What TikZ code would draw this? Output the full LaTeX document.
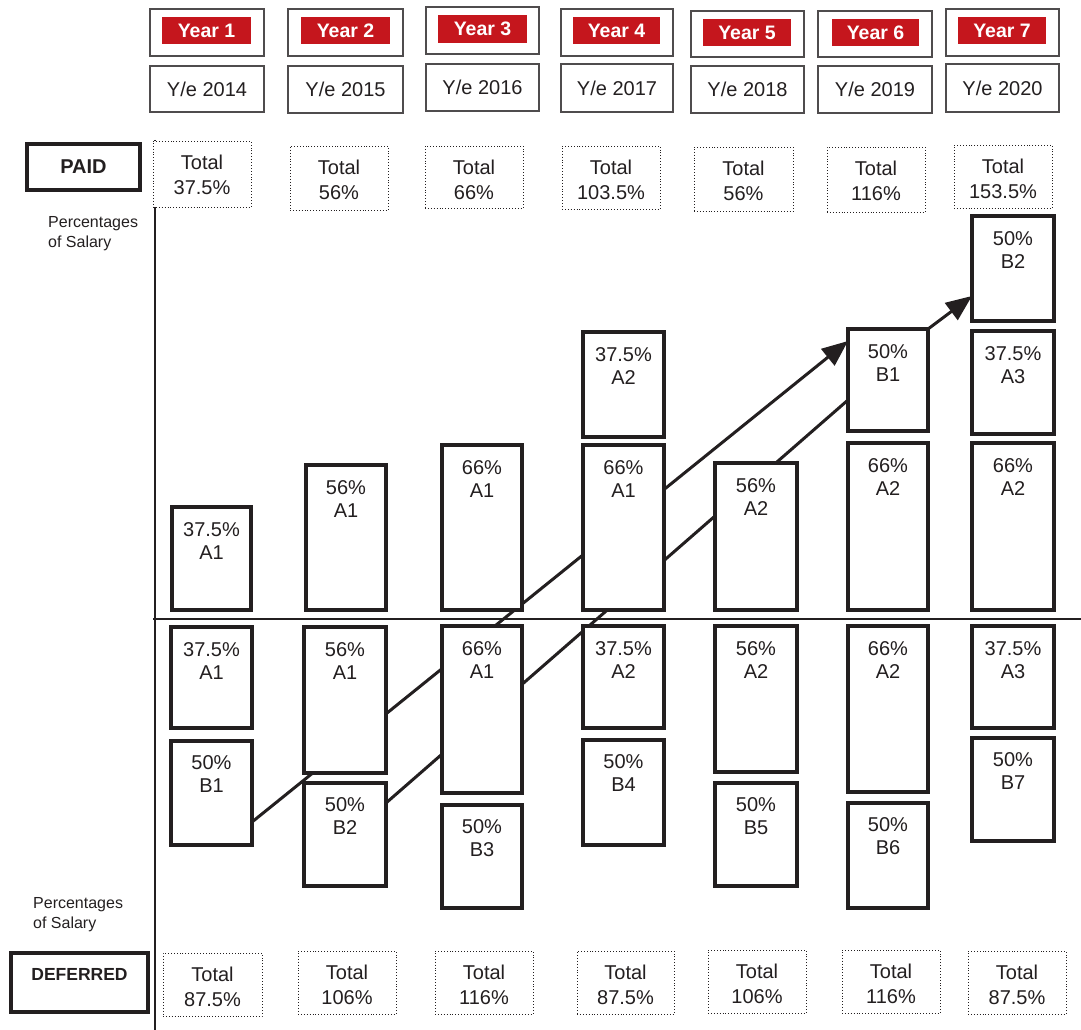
\documentclass[tikz,border=0pt]{standalone}
\usepackage{fontspec}
\setmainfont{Liberation Sans}
\usetikzlibrary{calc,arrows.meta,backgrounds}
\definecolor{yred}{RGB}{197,22,29}
\definecolor{ink}{RGB}{35,31,32}
% name, x1, y1, x2, y2, box style, text style, text (text hangs from the top)
\newcommand\tbox[8]{%
  \node[#6, minimum width={#4-#2}, minimum height={#5-#3}] (#1) at ({(#2+#4)/2},{(#3+#5)/2}) {};
  \node[#7, anchor=north] (#1-t) at (#1.north) {#8};}
% name, x1, y1, x2, y2, style, text (text centred)
\newcommand\cbox[7]{%
  \node[#6, minimum width={#4-#2}, minimum height={#5-#3}] (#1) at ({(#2+#4)/2},{(#3+#5)/2}) {#7};}
\tikzset{
  base/.style={rectangle, inner sep=0pt, outer sep=0pt},
  bar/.style={base, draw=ink, line width=3.5pt, fill=white},
  tot/.style={base, draw=ink, line width=0.9pt, dotted, fill=white},
  hdr/.style={base, draw=ink!80, line width=1.4pt, text=ink, font=\fontsize{20}{24}\selectfont},
  redbox/.style={base, fill=yred, text=white, font=\bfseries\fontsize{19.5}{22}\selectfont},
  side/.style={base, draw=ink, line width=4pt, fill=white},
  txt/.style={inner sep=0pt, align=center, text=ink, font=\fontsize{20}{23.5}\selectfont},
  bartxt/.style={txt, yshift=-15pt},
  bartxtb/.style={txt, yshift=-14pt},
  tottxt/.style={txt, font=\fontsize{20}{25}\selectfont, yshift=-14pt},
  sidetxt/.style={inner sep=0pt, text=ink, font=\bfseries\fontsize{20}{24}\selectfont},
  plabel/.style={inner sep=0pt, align=left, text=ink, font=\fontsize{16}{20}\selectfont},
  axis/.style={draw=ink, line width=1.2pt},
  conn/.style={draw=ink, line width=3pt},
  tip/.style={-{Triangle[length=26pt,width=21pt]}}
}
\begin{document}
\begin{tikzpicture}[x=1pt,y=-1pt]
\useasboundingbox (0,0) rectangle (1081,1030);

% axes
\coordinate (axtop) at (155,140);
\coordinate (axbot) at (155,1030);
\coordinate (hl) at (153,619);
\coordinate (hr) at (1081,619);
\draw[axis] (axtop) -- (axbot);
\draw[axis] (hl) -- (hr);

% headers
\cbox{h1}{150}{9}{264}{56}{hdr}{}
\cbox{r1}{162}{17}{251}{44}{redbox}{Year 1}
\cbox{y1}{150}{66}{264}{112}{hdr}{Y/e 2014}
\cbox{h2}{288}{9}{403}{56}{hdr}{}
\cbox{r2}{301}{17}{390}{44}{redbox}{Year 2}
\cbox{y2}{288}{66}{403}{113}{hdr}{Y/e 2015}
\cbox{h3}{426}{7}{539}{54}{hdr}{}
\cbox{r3}{438}{15}{527}{43}{redbox}{Year 3}
\cbox{y3}{426}{64}{539}{111}{hdr}{Y/e 2016}
\cbox{h4}{561}{9}{673}{56}{hdr}{}
\cbox{r4}{573}{17}{660}{44}{redbox}{Year 4}
\cbox{y4}{561}{64}{673}{112}{hdr}{Y/e 2017}
\cbox{h5}{691}{11}{804}{57}{hdr}{}
\cbox{r5}{703}{19}{791}{46}{redbox}{Year 5}
\cbox{y5}{691}{66}{804}{113}{hdr}{Y/e 2018}
\cbox{h6}{818}{11}{932}{57}{hdr}{}
\cbox{r6}{832}{19}{919}{46}{redbox}{Year 6}
\cbox{y6}{818}{66}{932}{113}{hdr}{Y/e 2019}
\cbox{h7}{946}{9}{1059}{56}{hdr}{}
\cbox{r7}{958}{17}{1046}{44}{redbox}{Year 7}
\cbox{y7}{946}{64}{1059}{112}{hdr}{Y/e 2020}

% side labels
\cbox{paid}{27}{144}{140}{190}{side, sidetxt}{PAID}
\tbox{def}{11}{953}{148}{1012}{side}{sidetxt, font=\bfseries\fontsize{17.5}{21}\selectfont, yshift=-15pt}{DEFERRED}
\node[plabel, anchor=north west] (pct1) at (48,216) {Percentages\\of Salary};
\node[plabel, anchor=north west] (pct2) at (33,897) {Percentages\\of Salary};

% paid totals
\tbox{t1}{153}{141}{251}{207}{tot}{tottxt}{Total\\37.5\%}
\tbox{t2}{290}{146}{388}{210}{tot}{tottxt}{Total\\56\%}
\tbox{t3}{425}{146}{523}{208}{tot}{tottxt}{Total\\66\%}
\tbox{t4}{562}{146}{660}{209}{tot}{tottxt}{Total\\103.5\%}
\tbox{t5}{694}{147}{793}{211}{tot}{tottxt}{Total\\56\%}
\tbox{t6}{827}{147}{925}{212}{tot}{tottxt}{Total\\116\%}
\tbox{t7}{954}{145}{1052}{208}{tot}{tottxt}{Total\\153.5\%}

% deferred totals
\tbox{u1}{163}{953}{262}{1016}{tot}{tottxt}{Total\\87.5\%}
\tbox{u2}{298}{951}{396}{1014}{tot}{tottxt}{Total\\106\%}
\tbox{u3}{435}{951}{533}{1014}{tot}{tottxt}{Total\\116\%}
\tbox{u4}{577}{951}{674}{1014}{tot}{tottxt}{Total\\87.5\%}
\tbox{u5}{708}{950}{806}{1013}{tot}{tottxt}{Total\\106\%}
\tbox{u6}{842}{950}{940}{1013}{tot}{tottxt}{Total\\116\%}
\tbox{u7}{968}{951}{1066}{1014}{tot}{tottxt}{Total\\87.5\%}

% paid bars
\tbox{p1a}{172}{507}{251}{610}{bar}{bartxt}{37.5\%\\A1}
\tbox{p2a}{306}{465}{386}{610}{bar}{bartxt}{56\%\\A1}
\tbox{p3a}{442}{445}{522}{610}{bar}{bartxt}{66\%\\A1}
\tbox{p4b}{583}{332}{664}{437}{bar}{bartxt}{37.5\%\\A2}
\tbox{p4a}{583}{445}{664}{610}{bar}{bartxt}{66\%\\A1}
\tbox{p5a}{715}{463}{797}{610}{bar}{bartxt}{56\%\\A2}
\tbox{p6b}{848}{329}{928}{431}{bar}{bartxt}{50\%\\B1}
\tbox{p6a}{848}{443}{928}{610}{bar}{bartxt}{66\%\\A2}
\tbox{p7c}{972}{216}{1054}{321}{bar}{bartxt}{50\%\\B2}
\tbox{p7b}{972}{331}{1054}{434}{bar}{bartxt}{37.5\%\\A3}
\tbox{p7a}{972}{443}{1054}{610}{bar}{bartxt}{66\%\\A2}

% deferred bars
\tbox{d1a}{171}{627}{252}{728}{bar}{bartxt}{37.5\%\\A1}
\tbox{d1b}{171}{741}{252}{845}{bar}{bartxtb}{50\%\\B1}
\tbox{d2a}{304}{627}{386}{773}{bar}{bartxt}{56\%\\A1}
\tbox{d2b}{304}{783}{386}{886}{bar}{bartxtb}{50\%\\B2}
\tbox{d3a}{442}{626}{522}{793}{bar}{bartxt}{66\%\\A1}
\tbox{d3b}{442}{805}{522}{908}{bar}{bartxtb}{50\%\\B3}
\tbox{d4a}{583}{626}{664}{728}{bar}{bartxt}{37.5\%\\A2}
\tbox{d4b}{583}{740}{664}{845}{bar}{bartxtb}{50\%\\B4}
\tbox{d5a}{715}{626}{797}{772}{bar}{bartxt}{56\%\\A2}
\tbox{d5b}{715}{783}{797}{886}{bar}{bartxtb}{50\%\\B5}
\tbox{d6a}{848}{626}{928}{792}{bar}{bartxt}{66\%\\A2}
\tbox{d6b}{848}{803}{928}{908}{bar}{bartxtb}{50\%\\B6}
\tbox{d7a}{972}{626}{1054}{728}{bar}{bartxt}{37.5\%\\A3}
\tbox{d7b}{972}{738}{1054}{841}{bar}{bartxtb}{50\%\\B7}

% connectors (behind the bars)
\begin{scope}[on background layer]
\draw[conn, tip] ([yshift=-29pt]d1b.east) -- ([yshift=39pt]p6b.west);
\draw[conn] ([yshift=31.5pt]d2b.east) -- ([yshift=-20pt]p6b.west);
\draw[conn, tip] (p6b.north east) -- ([yshift=-27.5pt]p7c.west);
\end{scope}
\end{tikzpicture}
\end{document}
